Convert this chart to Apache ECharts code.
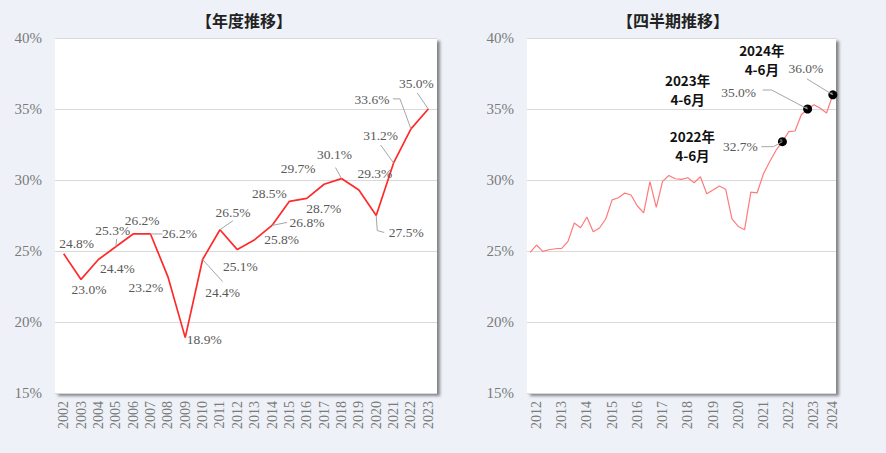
<!DOCTYPE html>
<html><head><meta charset="utf-8">
<script src="https://cdn.jsdelivr.net/npm/echarts@6/dist/echarts.min.js"></script>
<style>html,body{margin:0;padding:0;background:#eef2f8;}#c{width:886px;height:453px;}</style>
</head><body><div id="c"></div>
<script>
// ---------- data ----------
const annualYears = ['2002','2003','2004','2005','2006','2007','2008','2009','2010','2011','2012','2013','2014','2015','2016','2017','2018','2019','2020','2021','2022','2023'];
const annualValues = [24.8,23.0,24.4,25.3,26.2,26.2,23.2,18.9,24.4,26.5,25.1,25.8,26.8,28.5,28.7,29.7,30.1,29.3,27.5,31.2,33.6,35.0];
const quarterCategories = [
  '2012/4-6','2012/7-9','2012/10-12','2013/1-3','2013/4-6','2013/7-9','2013/10-12','2014/1-3',
  '2014/4-6','2014/7-9','2014/10-12','2015/1-3','2015/4-6','2015/7-9','2015/10-12','2016/1-3',
  '2016/4-6','2016/7-9','2016/10-12','2017/1-3','2017/4-6','2017/7-9','2017/10-12','2018/1-3',
  '2018/4-6','2018/7-9','2018/10-12','2019/1-3','2019/4-6','2019/7-9','2019/10-12','2020/1-3',
  '2020/4-6','2020/7-9','2020/10-12','2021/1-3','2021/4-6','2021/7-9','2021/10-12','2022/1-3',
  '2022/4-6','2022/7-9','2022/10-12','2023/1-3','2023/4-6','2023/7-9','2023/10-12','2024/1-3',
  '2024/4-6'];
const quarterValues = [
  24.9,25.42,24.97,25.09,25.16,25.18,25.68,26.97,
  26.64,27.39,26.36,26.62,27.27,28.6,28.75,29.08,
  28.94,28.17,27.68,29.88,28.07,29.9,30.32,30.09,
  30.04,30.16,29.81,30.23,29.03,29.3,29.58,29.35,
  27.27,26.73,26.5,29.15,29.1,30.44,31.3,32.1,
  32.7,33.4,33.45,34.6,35.0,35.3,35.05,34.72,
  36.0];
const highlightQuarters = ['2022/4-6','2023/4-6','2024/4-6'];
const yTickValues = [15,20,25,30,35,40];
const titles = ['【年度推移】','【四半期推移】'];

// ---------- label layout (pixel offsets from the data point) ----------
const annualLabelOffsets = [[13,-10],[8,10],[19,9],[-3,-16],[9,-13],[29,0],[-22,11],[19,2],[20,33],[13,-17],[3,17],[27,0],[35,-3],[-20,-8],[17,10],[-26,-16],[-7,-24],[16,-16],[30,17],[-13,-27],[-39,-29],[-12,-26]];
const annualLeaders = {3:[[0,0],[1,-8]],5:[[0,0],[12,0]],8:[[0,0],[20,22]],9:[[0,0],[13,-9]],12:[[0,0],[15,-3]],16:[[0,0],[-6,-11]],18:[[0,0],[1,15],[8,17]],19:[[0,0],[-13,-18]],20:[[0,0],[-11,-30],[-18,-30]],21:[[0,0],[-11,-16]]};
const hlPctOffsets = [[-42,5],[-69,-17],[-27,-26]];
const hlPctLeaders = [[[0,0],[-9,5],[-21,5]],[[0,0],[-36,-19],[-45,-19]],[[0,0],[-26,-16]]];
const hlNoteOffsets = [[-90,4],[-120,-20],[-71,-35]];

const SERIF = "'Liberation Serif','Times New Roman',serif";
const CJK = "'Noto Sans CJK JP','Noto Sans',sans-serif";

const chart = echarts.init(document.getElementById('c'), null, {renderer:'svg'});

function yAxis(gi){
  return {gridIndex:gi,type:'value',min:yTickValues[0],max:yTickValues[yTickValues.length-1],interval:5,
    axisLine:{show:false},axisTick:{show:false},
    axisLabel:{formatter:'{value}%',color:'#7a7a7a',fontFamily:SERIF,fontSize:15,margin:13},
    splitLine:{lineStyle:{color:'#d9d9d9',width:1}}};
}
const gridStyle = {show:true,backgroundColor:'#ffffff',borderWidth:0,shadowColor:'rgba(0,0,0,0.45)',shadowBlur:3,shadowOffsetX:3,shadowOffsetY:3};

const dotColor = {type:'radial',x:0.35,y:0.35,r:0.7,colorStops:[{offset:0,color:'#888'},{offset:0.3,color:'#000'},{offset:1,color:'#000'}]};
const quarterData = quarterValues.map((v,i)=>{
  const hl = highlightQuarters.indexOf(quarterCategories[i])>=0;
  return hl ? {value:v,symbol:'circle',symbolSize:9,itemStyle:{color:dotColor}} : {value:v,symbol:'none'};
});

chart.setOption({
  backgroundColor:'#eef2f8',
  animation:false,
  title:[
    {text:titles[0],left:244,top:12,textAlign:'center',padding:0,textStyle:{fontFamily:CJK,fontSize:16,fontWeight:'bold',color:'#222'}},
    {text:titles[1],left:673,top:12,textAlign:'center',padding:0,textStyle:{fontFamily:CJK,fontSize:16,fontWeight:'bold',color:'#222'}}
  ],
  grid:[
    Object.assign({left:55,right:449,top:38,bottom:60},gridStyle),
    Object.assign({left:527,right:50,top:38,bottom:60},gridStyle)
  ],
  xAxis:[
    {gridIndex:0,type:'category',data:annualYears,boundaryGap:true,axisLine:{show:false},axisTick:{show:false},
     axisLabel:{rotate:90,interval:0,color:'#7a7a7a',fontFamily:SERIF,fontSize:14,margin:8}},
    {gridIndex:1,type:'category',data:quarterCategories,boundaryGap:true,axisLine:{show:false},axisTick:{show:false},
     axisLabel:{rotate:90,color:'#7a7a7a',fontFamily:SERIF,fontSize:14,margin:8,
       interval:(i,v)=> v.endsWith('/7-9') || i===quarterCategories.length-1,
       formatter:(v)=> v.split('/')[0]}}
  ],
  yAxis:[yAxis(0),yAxis(1)],
  series:[
    {type:'line',xAxisIndex:0,yAxisIndex:0,data:annualValues,symbol:'none',lineStyle:{color:'#ff2a2a',width:1.7},z:3},
    {type:'line',xAxisIndex:1,yAxisIndex:1,data:quarterData,showSymbol:true,showAllSymbol:true,symbol:'none',lineStyle:{color:'#ff7a7a',width:1.2},z:3}
  ]
});

// ---------- annotations placed from the axes' own scales ----------
const g = [];
function txt(x,y,text,opts){
  g.push({type:'text',x:x,y:y,z:10,style:Object.assign({text:text,align:'center',verticalAlign:'middle',textAlign:'center',textVerticalAlign:'middle',fill:'#595959',font:"13.5px "+SERIF},opts||{})});
}
function leader(p,pts){
  g.push({type:'polyline',z:9,shape:{points:pts.map(d=>[p[0]+d[0],p[1]+d[1]])},style:{stroke:'#a6a6a6',lineWidth:1,fill:null}});
}
annualValues.forEach((v,i)=>{
  const p = chart.convertToPixel({gridIndex:0},[annualYears[i],v]);
  const o = annualLabelOffsets[i];
  if(annualLeaders[i]) leader(p,annualLeaders[i]);
  txt(p[0]+o[0],p[1]+o[1],v.toFixed(1)+'%');
});
highlightQuarters.forEach((q,k)=>{
  const idx = quarterCategories.indexOf(q);
  const v = quarterValues[idx];
  const p = chart.convertToPixel({gridIndex:1},[q,v]);
  leader(p,hlPctLeaders[k]);
  txt(p[0]+hlPctOffsets[k][0],p[1]+hlPctOffsets[k][1],v.toFixed(1)+'%');
  const parts = q.split('/');
  const nx = p[0]+hlNoteOffsets[k][0], ny = p[1]+hlNoteOffsets[k][1];
  const noteStyle = {fill:'#111',font:"bold 13.5px "+CJK};
  txt(nx, ny-9.5, parts[0]+'年', noteStyle);
  txt(nx, ny+9.5, parts[1]+'月', noteStyle);
});
chart.setOption({graphic:g});
</script></body></html>
